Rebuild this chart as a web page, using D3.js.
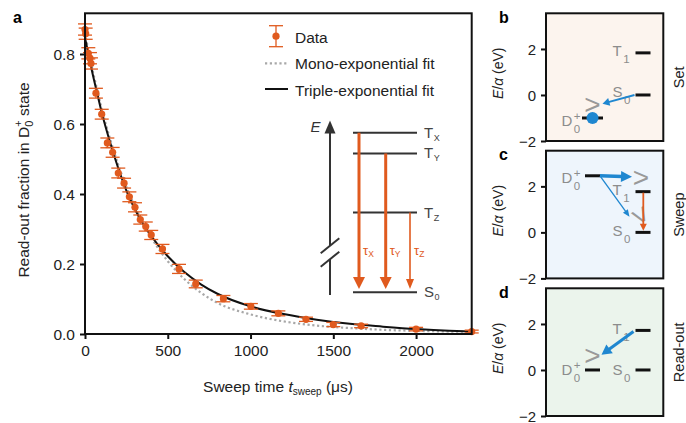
<!DOCTYPE html>
<html><head><meta charset="utf-8">
<script src="https://cdn.jsdelivr.net/npm/d3@7"></script>
<style>body{margin:0;background:#fff}svg{display:block;font-family:"Liberation Sans",Arial,sans-serif}</style>
</head><body><svg id="c" width="686" height="423"></svg>
<script>
// ---------- data (panel a) ----------
const sweepTime = [0, 4, 20, 30, 36, 66, 101, 135, 167, 201, 236, 268, 302, 334, 367, 400, 468, 568, 669, 836, 1002, 1168, 1335, 1500, 1668, 2000, 2336];
const readout   = [0.870, 0.858, 0.802, 0.788, 0.773, 0.688, 0.628, 0.546, 0.519, 0.460, 0.431, 0.392, 0.362, 0.327, 0.307, 0.283, 0.243, 0.186, 0.143, 0.101, 0.079, 0.059, 0.042, 0.027, 0.023, 0.014, 0.007];
const readoutErr= [0.016, 0.016, 0.016, 0.016, 0.016, 0.014, 0.014, 0.014, 0.014, 0.014, 0.014, 0.014, 0.013, 0.013, 0.013, 0.013, 0.013, 0.013, 0.011, 0.009, 0.008, 0.007, 0.006, 0.006, 0.005, 0.005, 0.004];
const fitTime   = [0, 25, 50, 75, 100, 150, 200, 250, 300, 350, 400, 500, 600, 700, 800, 1000, 1200, 1400, 1600, 1800, 2000, 2200, 2336];
const tripleFit = [0.846, 0.79, 0.735, 0.685, 0.635, 0.55, 0.475, 0.41, 0.358, 0.315, 0.28, 0.222, 0.177, 0.142, 0.115, 0.079, 0.057, 0.041, 0.029, 0.021, 0.014, 0.009, 0.007];
const monoFit   = [0.86, 0.80, 0.745, 0.695, 0.645, 0.56, 0.485, 0.42, 0.366, 0.318, 0.276, 0.208, 0.157, 0.118, 0.089, 0.056, 0.036, 0.024, 0.017, 0.012, 0.009, 0.007, 0.006];
const xTicks = [0, 500, 1000, 1500, 2000];
const yTicks = [0, 0.2, 0.4, 0.6, 0.8];
const legendLabels = ["Data", "Mono-exponential fit", "Triple-exponential fit"];
// inset energy diagram (schematic, relative energy)
const insetTriplets = ["X", "Y", "Z"];
const insetEnergy = [1, 0.87, 0.5];   // T_X, T_Y, T_Z ; S_0 = 0
// ---------- data (panels b-d) ----------
const panelLetters = ["b", "c", "d"];
const panelNames = ["Set", "Sweep", "Read-out"];
const levelD0 = [-1.0, 2.46, 0];
const levelT1 = [1.83, 1.77, 1.72];
const levelS0 = [0, 0, 0];
const eTicks = [-2, 0, 2];

const ORANGE = "#e05a1e", BLUE = "#1f87d0", GRAY = "#8c8c8c";
const svg = d3.select("#c");

function arrow(g, x1, y1, x2, y2, sw, hl, hw, color) {
  const dx = x2 - x1, dy = y2 - y1, L = Math.hypot(dx, dy), ux = dx / L, uy = dy / L;
  const bx = x2 - ux * hl, by = y2 - uy * hl;
  g.append("line").attr("x1", x1).attr("y1", y1).attr("x2", bx + ux * 1).attr("y2", by + uy * 1)
    .attr("stroke", color).attr("stroke-width", sw);
  g.append("path").attr("d", `M${x2},${y2}L${bx - uy * hw / 2},${by + ux * hw / 2}L${bx + uy * hw / 2},${by - ux * hw / 2}Z`)
    .attr("fill", color);
}

// ================= panel a =================
const x = d3.scaleLinear().domain([0, 2336]).range([85, 471.7]);
const y = d3.scaleLinear().domain([0, 0.9163]).range([334, 13.3]);
const ga = svg.append("g");

// axes
const xAxis = ga.append("g").attr("transform", "translate(0,334)")
  .call(d3.axisBottom(x).tickValues(xTicks).tickSize(5).tickPadding(6).tickFormat(d3.format("d")));
const yAxis = ga.append("g").attr("transform", "translate(85,0)")
  .call(d3.axisLeft(y).tickValues(yTicks).tickSize(5).tickPadding(5).tickFormat(d3.format(".1f")));
[xAxis, yAxis].forEach(a => {
  a.select(".domain").remove();
  a.selectAll(".tick line").attr("stroke", "#111").attr("stroke-width", 2);
  a.selectAll(".tick text").attr("font-size", 15.5).attr("fill", "#222").attr("font-family", '"Liberation Sans",Arial,sans-serif');
});
yAxis.selectAll(".tick text").attr("dy", "0.36em");

// fits
const line = d3.line().x((d) => x(d[0])).y((d) => y(d[1])).curve(d3.curveMonotoneX);
ga.append("path").datum(fitTime.map((t, i) => [t, monoFit[i]])).attr("d", line)
  .attr("fill", "none").attr("stroke", "#a8a8a8").attr("stroke-width", 2.2).attr("stroke-dasharray", "2.2,2.6");
ga.append("path").datum(fitTime.map((t, i) => [t, tripleFit[i]])).attr("d", line)
  .attr("fill", "none").attr("stroke", "#111").attr("stroke-width", 2);

// data with error bars
const pts = ga.append("g");
sweepTime.forEach((t, i) => {
  const cx = x(t), v = readout[i], e = readoutErr[i];
  const g = pts.append("g").attr("stroke", ORANGE).attr("stroke-width", 1.3);
  g.append("line").attr("x1", cx).attr("x2", cx).attr("y1", y(v - e)).attr("y2", y(v + e));
  g.append("line").attr("x1", cx - 7).attr("x2", cx + 7).attr("y1", y(v - e)).attr("y2", y(v - e));
  g.append("line").attr("x1", cx - 7).attr("x2", cx + 7).attr("y1", y(v + e)).attr("y2", y(v + e));
  pts.append("circle").attr("cx", cx).attr("cy", y(v)).attr("r", 3.6).attr("fill", ORANGE);
});

// frame
ga.append("rect").attr("x", 85).attr("y", 13.3).attr("width", 471.7 - 85).attr("height", 334 - 13.3)
  .attr("fill", "none").attr("stroke", "#111").attr("stroke-width", 2);

// axis labels
ga.append("text").attr("x", 13).attr("y", 23).attr("font-size", 16).attr("font-weight", "bold").text("a");
const xl = ga.append("text").attr("x", 278).attr("y", 392).attr("text-anchor", "middle").attr("font-size", 15.5).attr("fill", "#222");
xl.append("tspan").text("Sweep time ");
xl.append("tspan").attr("font-style", "italic").text("t");
xl.append("tspan").attr("font-size", 10).attr("dy", 3).text("sweep");
xl.append("tspan").attr("dy", -3).text(" (μs)");
const yl = ga.append("text").attr("transform", "translate(28.5,180) rotate(-90)").attr("text-anchor", "middle")
  .attr("font-size", 15.5).attr("fill", "#222");
yl.append("tspan").text("Read-out fraction in D");
yl.append("tspan").attr("font-size", 11).attr("dy", 4).text("0");
yl.append("tspan").attr("font-size", 11).attr("dx", -6.1).attr("dy", -11).text("+");
yl.append("tspan").attr("dy", 7).text(" state");

// legend
const lg = ga.append("g").attr("font-size", 15.5).attr("fill", "#222");
lg.append("line").attr("x1", 276).attr("x2", 276).attr("y1", 25.7).attr("y2", 46.7).attr("stroke", ORANGE).attr("stroke-width", 1.3);
lg.append("line").attr("x1", 269).attr("x2", 283).attr("y1", 25.7).attr("y2", 25.7).attr("stroke", ORANGE).attr("stroke-width", 1.3);
lg.append("line").attr("x1", 269).attr("x2", 283).attr("y1", 46.7).attr("y2", 46.7).attr("stroke", ORANGE).attr("stroke-width", 1.3);
lg.append("circle").attr("cx", 276).attr("cy", 36.2).attr("r", 3.6).attr("fill", ORANGE);
lg.append("line").attr("x1", 265).attr("x2", 288).attr("y1", 63.3).attr("y2", 63.3).attr("stroke", "#a8a8a8").attr("stroke-width", 2.2).attr("stroke-dasharray", "2.2,2.6");
lg.append("line").attr("x1", 265).attr("x2", 288).attr("y1", 89).attr("y2", 89).attr("stroke", "#111").attr("stroke-width", 2);
legendLabels.forEach((l, i) => lg.append("text").attr("x", 295).attr("y", 42.5 + i * 26.5).text(l));

// inset
const iy = d3.scaleLinear().domain([0, 1]).range([292.3, 132.7]);
const ig = ga.append("g");
ig.append("line").attr("x1", 330).attr("x2", 330).attr("y1", 132).attr("y2", 246).attr("stroke", "#333").attr("stroke-width", 2);
ig.append("line").attr("x1", 330).attr("x2", 330).attr("y1", 259).attr("y2", 295).attr("stroke", "#333").attr("stroke-width", 2);
ig.append("path").attr("d", "M330,120.5L335.5,133.5L324.5,133.5Z").attr("fill", "#333");
ig.append("line").attr("x1", 320.7).attr("y1", 253.3).attr("x2", 339.3).attr("y2", 238.3).attr("stroke", "#333").attr("stroke-width", 2);
ig.append("line").attr("x1", 320.7).attr("y1", 266.7).attr("x2", 339.3).attr("y2", 251.7).attr("stroke", "#333").attr("stroke-width", 2);
ig.append("text").attr("x", 310.5).attr("y", 131.5).attr("font-size", 15).attr("font-style", "italic").attr("fill", "#333").text("E");
const lvls = insetEnergy.concat([0]);
const lvlNames = insetTriplets.map(s => ["T", s]).concat([["S", "0"]]);
lvls.forEach((e, i) => {
  ig.append("line").attr("x1", 353).attr("x2", 417).attr("y1", iy(e)).attr("y2", iy(e)).attr("stroke", "#333").attr("stroke-width", 2);
  const t = ig.append("text").attr("x", 424).attr("y", iy(e) + 5).attr("font-size", 15).attr("fill", "#444");
  t.append("tspan").text(lvlNames[i][0]);
  t.append("tspan").attr("font-size", 9).attr("dy", 3).attr("dx", 0.5).text(lvlNames[i][1]);
});
const tauX = [359, 385.7, 410], tauW = [3, 3, 1.6], tauHW = [12, 12, 8], tauHL = [12, 12, 10];
insetEnergy.forEach((e, i) => {
  arrow(ig, tauX[i], iy(e), tauX[i], 289, tauW[i], tauHL[i], tauHW[i], ORANGE);
  const t = ig.append("text").attr("x", tauX[i] + 4).attr("y", 255).attr("font-size", 13).attr("fill", ORANGE);
  t.append("tspan").text("τ");
  t.append("tspan").attr("font-size", 8.5).attr("dy", 2).text(insetTriplets[i]);
});

// ================= panels b-d =================
const tops = [13.3, 150.7, 288.3], PH = 127.7, PX0 = 546, PX1 = 663.3;
const bgs = ["#fcf4ee", "#eef5fc", "#ebf4ec"];
const col = d3.scalePoint().domain(["D", "T"]).range([592.5, 643]);

function grayLabel(g, xx, yy, base, sub, sup) {
  const t = g.append("text").attr("x", xx).attr("y", yy).attr("font-size", 15).attr("fill", GRAY);
  t.append("tspan").text(base);
  t.append("tspan").attr("font-size", 11.5).attr("dy", 7).attr("dx", 1.5).text(sub);
  if (sup) t.append("tspan").attr("font-size", 11.5).attr("dx", -6.4).attr("dy", -13).text(sup);
}
function level(g, cx, yy) {
  g.append("line").attr("x1", cx - 7.5).attr("x2", cx + 7.5).attr("y1", yy).attr("y2", yy).attr("stroke", "#111").attr("stroke-width", 3);
}
function gt(g, cx, cy, rot) {
  g.append("text").attr("transform", `translate(${cx},${cy}) rotate(${rot})`).attr("text-anchor", "middle").attr("dy", "0.35em")
    .attr("font-size", 28).attr("fill", "#999").text(">");
}

panelLetters.forEach((L, p) => {
  const top = tops[p], bot = top + PH;
  const ey = d3.scaleLinear().domain([-2, 3.55]).range([bot, top]);
  const g = svg.append("g");
  g.append("rect").attr("x", PX0).attr("y", top).attr("width", PX1 - PX0).attr("height", PH).attr("fill", bgs[p]);
  const ax = g.append("g").attr("transform", `translate(${PX0},0)`)
    .call(d3.axisLeft(ey).tickValues(eTicks).tickSize(5).tickPadding(5).tickFormat(d3.format("d")));
  ax.select(".domain").remove();
  ax.selectAll(".tick line").attr("stroke", "#111").attr("stroke-width", 2);
  ax.selectAll(".tick text").attr("font-size", 15).attr("fill", "#222").attr("dy", "0.36em").attr("font-family", '"Liberation Sans",Arial,sans-serif');
  g.append("rect").attr("x", PX0).attr("y", top).attr("width", PX1 - PX0).attr("height", PH)
    .attr("fill", "none").attr("stroke", "#111").attr("stroke-width", 2);
  g.append("text").attr("x", 499).attr("y", top + 9.5).attr("font-size", 16).attr("font-weight", "bold").text(L);
  const el = g.append("text").attr("transform", `translate(503,${top + 60}) rotate(-90)`).attr("text-anchor", "middle")
    .attr("font-size", 14).attr("fill", "#222");
  el.append("tspan").attr("font-style", "italic").text("E");
  el.append("tspan").text("/");
  el.append("tspan").attr("font-style", "italic").text("α");
  el.append("tspan").text(" (eV)");
  g.append("text").attr("transform", `translate(684,${top + 64}) rotate(-90)`).attr("text-anchor", "middle")
    .attr("font-size", 14.5).attr("fill", "#222").text(panelNames[p]);

  const cD = col("D"), cT = col("T");
  level(g, cT, ey(levelT1[p]));
  level(g, cT, ey(levelS0[p]));
  if (p === 0) {
    grayLabel(g, 612.5, ey(levelT1[p]) + 3.5, "T", "1");
    grayLabel(g, 612.5, ey(levelS0[p]) + 2.5, "S", "0");
    g.append("line").attr("x1", cD - 10.5).attr("x2", cD + 10.5).attr("y1", ey(levelD0[p])).attr("y2", ey(levelD0[p])).attr("stroke", "#111").attr("stroke-width", 3);
    g.append("circle").attr("cx", cD).attr("cy", ey(levelD0[p])).attr("r", 6).attr("fill", BLUE);
    gt(g, cD, ey(-0.38), 0);
    arrow(g, cT - 8.5, ey(levelS0[p]), cD + 10, ey(-0.38), 2, 7, 8, BLUE);
    grayLabel(g, 561.5, ey(levelD0[p]) + 8.5, "D", "0", "+");
  } else if (p === 1) {
    level(g, cD, ey(levelD0[p]));
    grayLabel(g, 612.5, ey(levelT1[p]) + 3, "T", "1");
    grayLabel(g, 612.5, ey(levelS0[p]) + 3.5, "S", "0");
    grayLabel(g, 561.5, ey(levelD0[p]) + 7.5, "D", "0", "+");
    gt(g, cT - 2, ey(2.38), 0);
    gt(g, cT - 2, ey(0.75), 60);
    arrow(g, cD + 7.5, ey(levelD0[p]), cT - 11, ey(2.42), 3.5, 11, 11, BLUE);
    arrow(g, cD + 7.5, ey(levelD0[p]), cT - 13.5, ey(0.68), 1.3, 7, 6, BLUE);
    arrow(g, cT + 0.3, ey(levelT1[p]) + 1, cT + 0.3, ey(levelS0[p]) - 1.6, 1.8, 7, 7, ORANGE);
  } else {
    level(g, cD, ey(levelD0[p]));
    grayLabel(g, 612.5, ey(levelT1[p]) + 4, "T", "1");
    grayLabel(g, 612.5, ey(levelS0[p]) + 5, "S", "0");
    grayLabel(g, 561.5, ey(levelD0[p]) + 5, "D", "0", "+");
    gt(g, cD, ey(0.66), 0);
    arrow(g, cT - 9.5, ey(1.67), cD + 9, ey(0.66), 3, 10, 11, BLUE);
  }
});
</script></body></html>
